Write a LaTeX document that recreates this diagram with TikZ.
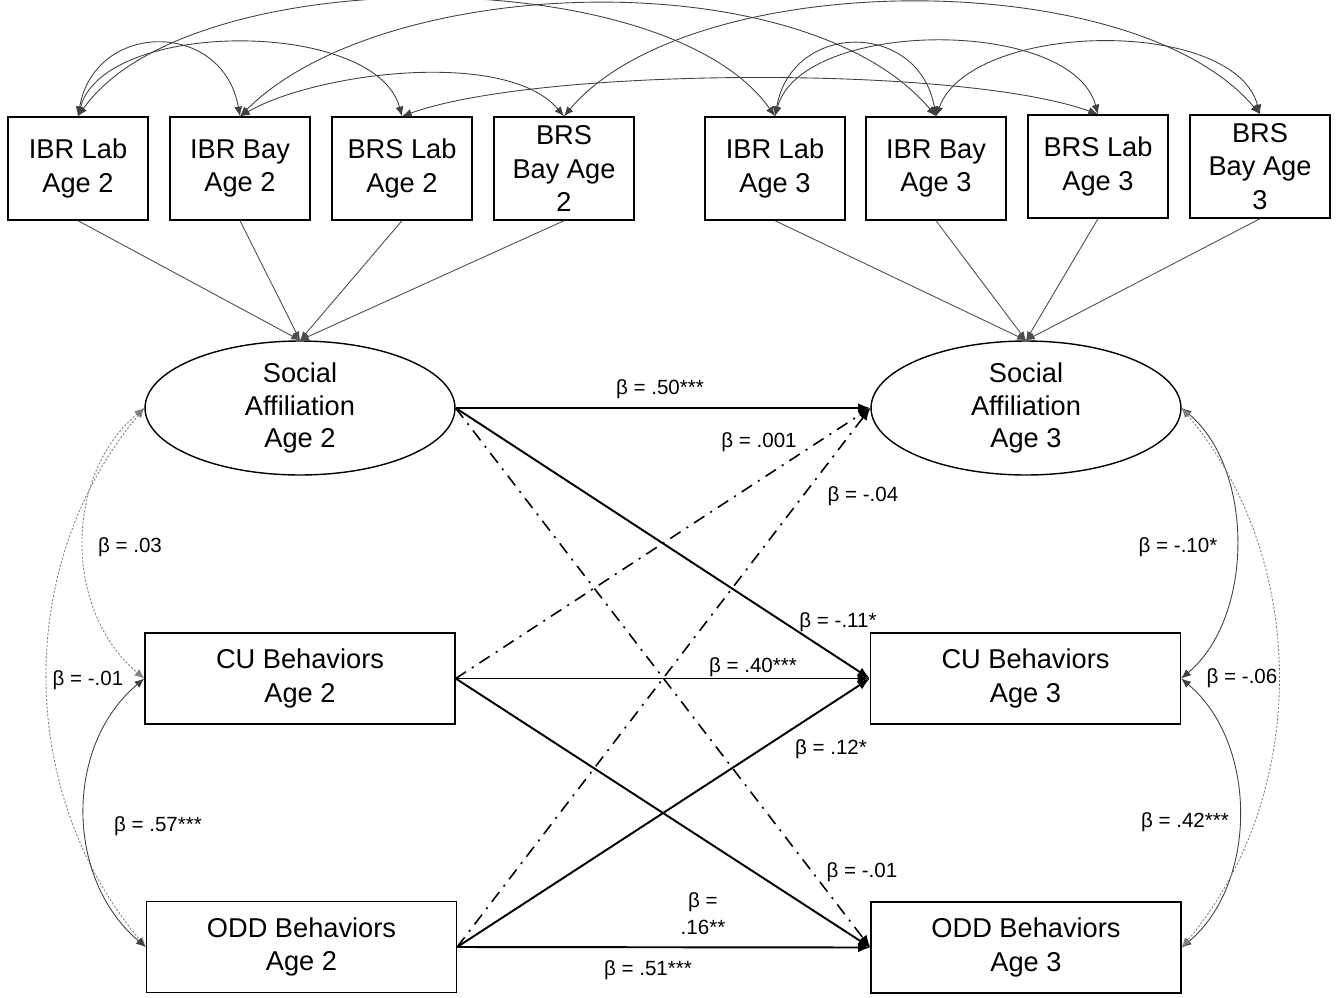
\documentclass[tikz,border=0pt]{standalone}
\usepackage{fontspec}
\setmainfont{Liberation Sans}
\usetikzlibrary{arrows.meta,shapes.geometric}
\tikzstyle{obsbox}=[draw,line width=0.8pt,minimum width=2.8cm,minimum height=2.06cm,inner sep=0pt,align=center,font=\fontsize{15.5}{19.2}\selectfont]
\tikzstyle{bigbox}=[obsbox,minimum width=6.2cm,minimum height=1.82cm]
\tikzstyle{latent}=[draw,ellipse,line width=0.8pt,minimum width=6.2cm,minimum height=2.68cm,inner sep=0pt,align=center,font=\fontsize{15.5}{18.7}\selectfont]
\tikzstyle{beta}=[inner sep=1pt,align=center,font=\fontsize{11.7}{15.5}\selectfont]
\tikzstyle{loading}=[draw,black!70,line width=0.5pt,-{Latex[length=5pt,width=4pt]}]
\tikzstyle{covar}=[draw,black!75,line width=0.5pt,{Latex[length=5.5pt,width=4.5pt]}-{Latex[length=5.5pt,width=4.5pt]}]
\tikzstyle{covarns}=[covar,gray,dash pattern=on 1.2pt off 1pt]
\tikzstyle{regpath}=[draw,line width=1.1pt,-{Latex[length=7pt,width=5.5pt]}]
\tikzstyle{regns}=[regpath,line width=0.9pt,dash pattern=on 7pt off 4pt on 1.2pt off 4pt]

\begin{document}
\begin{tikzpicture}[x=0.02cm,y=0.02cm]
        \useasboundingbox (0,0) rectangle (1340,-998);
        % indicators
        \node[obsbox] (ibrlab2) at (78,-168.5) {IBR Lab\\Age 2};
        \node[obsbox] (ibrbay2) at (240,-168.5) {IBR Bay\\Age 2};
        \node[obsbox] (brslab2) at (402,-168.5) {BRS Lab\\Age 2};
        \node[obsbox] (brsbay2) at (564,-168.5) {BRS\\Bay Age\\2};
        \node[obsbox] (ibrlab3) at (775,-168.5) {IBR Lab\\Age 3};
        \node[obsbox] (ibrbay3) at (936,-168.5) {IBR Bay\\Age 3};
        \node[obsbox] (brslab3) at (1098,-166.5) {BRS Lab\\Age 3};
        \node[obsbox] (brsbay3) at (1260,-166.5) {BRS\\Bay Age\\3};
        % latent and observed
        \node[latent] (sa2) at (300,-408) {Social\\Affiliation\\Age 2};
        \node[latent] (sa3) at (1026,-408) {Social\\Affiliation\\Age 3};
        \node[bigbox] (cu2) at (300,-678.5) {CU Behaviors\\Age 2};
        \node[bigbox] (cu3) at (1025.5,-678.5) {CU Behaviors\\Age 3};
        \node[bigbox] (odd2) at (301.5,-947) {ODD Behaviors\\Age 2};
        \node[bigbox] (odd3) at (1026,-947.5) {ODD Behaviors\\Age 3};
        % loadings
        \foreach \v in {ibrlab2,ibrbay2,brslab2,brsbay2}
            \draw[loading] (\v.south) -- (sa2.north);
        \foreach \v in {ibrlab3,ibrbay3,brslab3,brsbay3}
            \draw[loading] (\v.south) -- (sa3.north);
        % residual covariances
        \draw[covar] (ibrlab2.north) to[out=80,in=100,looseness=1.55] (ibrbay2.north);
        \draw[covar] (ibrlab2.north) to[out=75,in=105,looseness=0.8] (brslab2.north);
        \draw[covar] (ibrbay2.north) to[out=30,in=130,looseness=0.7] (brsbay2.north);
        \draw[covar] (ibrlab2.north) to[out=55,in=125,looseness=0.7] (ibrlab3.north);
        \draw[covar] (ibrbay2.north) to[out=45,in=130,looseness=0.75] (ibrbay3.north);
        \draw[covar] (brslab2.north) to[out=20,in=160,looseness=0.53] (brslab3.north);
        \draw[covar] (brsbay2.north) to[out=50,in=130,looseness=0.72] (brsbay3.north);
        \draw[covar] (ibrlab3.north) to[out=80,in=100,looseness=1.55] (ibrbay3.north);
        \draw[covar] (ibrlab3.north) to[out=75,in=105,looseness=0.8] (brslab3.north);
        \draw[covar] (ibrbay3.north) to[out=70,in=105,looseness=0.8] (brsbay3.north);
        % cross-lagged paths
        \draw[regpath] (sa2.east) -- (sa3.west);
        \draw[regpath] (sa2.east) -- (cu3.west);
        \draw[regns] (sa2.east) -- (odd3.west);
        \draw[regns] (cu2.east) -- (sa3.west);
        \draw[regpath] (cu2.east) -- (cu3.west);
        \draw[regpath] (cu2.east) -- (odd3.west);
        \draw[regns] (odd2.east) -- (sa3.west);
        \draw[regpath] (odd2.east) -- (cu3.west);
        \draw[regpath] (odd2.east) -- (odd3.west);
        % correlations
        \draw[covarns] (sa2.west) to[out=220,in=140] (cu2.west);
        \draw[covarns] (sa2.west) to[out=230,in=130,looseness=0.96] (odd2.west);
        \draw[covar] (cu2.west) to[out=220,in=140] (odd2.west);
        \draw[covar] (sa3.east) to[out=-40,in=40,looseness=0.9] (cu3.east);
        \draw[covar] (cu3.east) to[out=-40,in=40,looseness=0.95] (odd3.east);
        \draw[covarns] (sa3.east) to[out=-50,in=50,looseness=0.95] (odd3.east);
        % estimates
        \node[beta] (b50) at (660,-389) {β = .50***};
        \node[beta] (b001) at (759,-442) {β = .001};
        \node[beta] (b04) at (863,-496) {β = -.04};
        \node[beta] (b11) at (838,-622) {β = -.11*};
        \node[beta] (b40) at (753,-667) {β = .40***};
        \node[beta] (b12) at (831,-749) {β = .12*};
        \node[beta] (b01r) at (862,-872) {β = -.01};
        \node[beta] (b16) at (703,-914) {β =\\ .16**};
        \node[beta] (b51) at (648,-970) {β = .51***};
        \node[beta] (b03) at (130,-547) {β = .03};
        \node[beta] (b01l) at (88,-680) {β = -.01};
        \node[beta] (b57) at (158,-826) {β = .57***};
        \node[beta] (b10) at (1178,-547) {β = -.10*};
        \node[beta] (b06) at (1242,-678) {β = -.06};
        \node[beta] (b42) at (1185,-822) {β = .42***};
\end{tikzpicture}
\end{document}
